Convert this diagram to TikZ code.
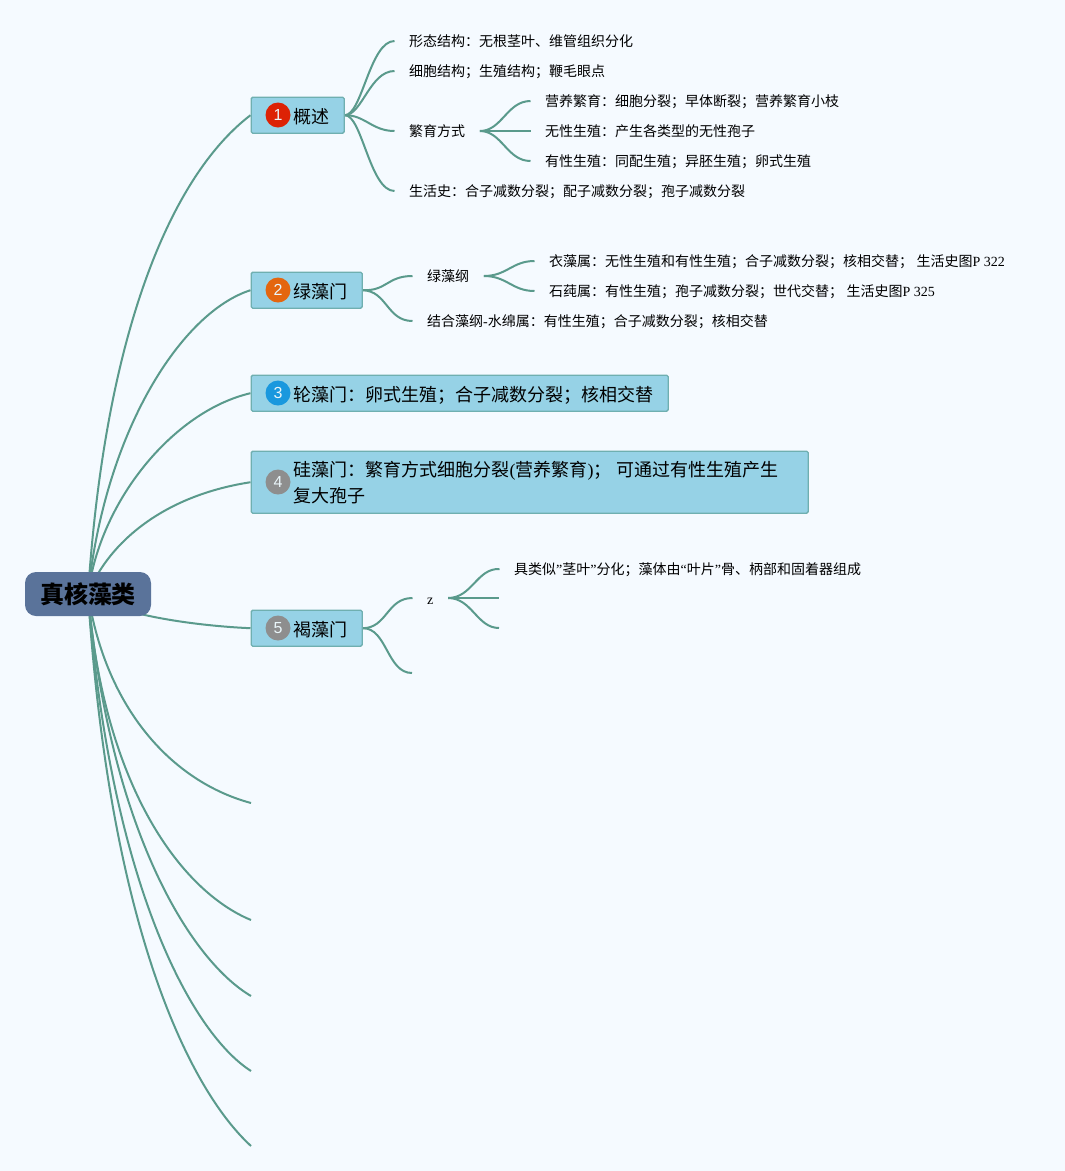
\documentclass[tikz,border=0pt]{standalone}
\usepackage{fontspec}
\setmainfont{Noto Sans CJK SC}
\newfontfamily\latf{Liberation Serif}
\newfontfamily\digf{Liberation Sans}
\newcommand{\lat}[1]{{\latf #1}}
\definecolor{pagebg}{HTML}{F5FAFF}
\definecolor{linkc}{HTML}{5A9A8C}
\definecolor{branchf}{HTML}{96D2E6}
\definecolor{branchd}{HTML}{6FAFB0}
\definecolor{rootf}{HTML}{5A739A}
\definecolor{badgea}{HTML}{DD2205}
\definecolor{badgeb}{HTML}{E4660F}
\definecolor{badgec}{HTML}{1A98DE}
\definecolor{badged}{HTML}{8E8E8E}
\pgfdeclarelayer{bg}
\pgfsetlayers{bg,main}
\tikzset{
  x=1pt,y=-1pt,
  link/.style={draw=linkc,line width=2pt,line cap=butt},
  leaf/.style={anchor=west,inner ysep=0pt,inner xsep=14.5pt,text height=11.4pt,text depth=0pt,font=\fontsize{14}{16}\selectfont,text=black},
  branch/.style={anchor=north west,draw=branchd,fill=branchf,line width=1.4pt,rounded corners=1.5pt,inner sep=0pt,font=\fontsize{18}{26}\selectfont,text=black,align=left},
  branchline/.style={text height=16pt,text depth=0pt},
  badge/.style={circle,minimum size=25pt,inner sep=0pt,font=\digf\fontsize{16}{16}\selectfont,text=white!80!branchf},
  rootn/.style={draw=none,fill=rootf,rounded corners=11pt,minimum width=126pt,minimum height=44pt,inner sep=0pt,font=\bfseries\fontsize{24}{26}\selectfont,text=black}
}
\begin{document}
\begin{tikzpicture}
\useasboundingbox (0,0) rectangle (1065,1171);
\node[rootn] (root) at (88,594) {真核藻类};
% level 1
\node[branch,branchline,minimum width=93pt,minimum height=36pt] (b1) at (250.5,96.5) {\hspace*{42.5pt}\makebox[50.5pt][l]{概述}};
\node[branch,branchline,minimum width=111pt,minimum height=36pt] (b2) at (250.5,271.5) {\hspace*{42.5pt}\makebox[68.5pt][l]{绿藻门}};
\node[branch,branchline,minimum width=417pt,minimum height=36pt] (b3) at (250.5,374.5) {\hspace*{42.5pt}\makebox[374.5pt][l]{轮藻门：卵式生殖；合子减数分裂；核相交替}};
\node[branch,minimum width=557pt,minimum height=62pt] (b4) at (250.5,450.5) {\hspace*{42.5pt}\parbox[c][54pt][c]{514.5pt}{\vspace*{1.4pt}\fontsize{18}{26}\selectfont 硅藻门：繁育方式细胞分裂\lat{(}营养繁育\lat{)}；\hspace{5pt}可通过有性生殖产生\\复大孢子}};
\node[branch,branchline,minimum width=111pt,minimum height=36pt] (b5) at (250.5,609.5) {\hspace*{42.5pt}\makebox[68.5pt][l]{褐藻门}};
\node[badge,fill=badgea] (n1) at (278,115) {1};
\node[badge,fill=badgeb] (n2) at (278,290) {2};
\node[badge,fill=badgec] (n3) at (278,393) {3};
\node[badge,fill=badged] (n4) at (278,482) {4};
\node[badge,fill=badged] (n5) at (278,628) {5};
% free ends
\coordinate (e6) at (251,803);
\coordinate (e7) at (251,920);
\coordinate (e8) at (251,996);
\coordinate (e9) at (251,1071);
\coordinate (e10) at (251,1146);
% level 2 under b1
\node[leaf] (a1) at (394.5,41) {形态结构：无根茎叶、维管组织分化};
\node[leaf] (a2) at (394.5,71) {细胞结构；生殖结构；鞭毛眼点};
\node[leaf] (a3) at (394.5,131) {繁育方式};
\node[leaf] (a4) at (394.5,191) {生活史：合子减数分裂；配子减数分裂；孢子减数分裂};
\node[leaf] (a31) at (530.5,101) {营养繁育：细胞分裂；早体断裂；营养繁育小枝};
\node[leaf] (a32) at (530.5,131) {无性生殖：产生各类型的无性孢子};
\node[leaf] (a33) at (530.5,161) {有性生殖：同配生殖；异胚生殖；卵式生殖};
% under b2
\node[leaf] (c1) at (412.5,276) {绿藻纲};
\node[leaf] (c2) at (412.5,321) {结合藻纲\lat{-}水绵属：有性生殖；合子减数分裂；核相交替};
\node[leaf] (c11) at (534.5,261) {衣藻属：无性生殖和有性生殖；合子减数分裂；核相交替；\hspace{3.4pt}生活史图\lat{P 322}};
\node[leaf] (c12) at (534.5,291) {石莼属：有性生殖；孢子减数分裂；世代交替；\hspace{3.4pt}生活史图\lat{P 325}};
% under b5
\node[leaf,font=\latf\fontsize{14}{16}\selectfont] (z) at (412.5,598) {\raisebox{-1pt}{z}\hspace{5.5pt}};
\coordinate (z2) at (412,673);
\node[leaf] (z1) at (499.5,569) {具类似\lat{”}茎叶\lat{”}分化；藻体由\lat{“}叶片\lat{”}骨、柄部和固着器组成};
\coordinate (z12) at (499,598);
\coordinate (z13) at (499,628);
\begin{pgfonlayer}{bg}
\fill[pagebg] (0,0) rectangle (1065,1171);
\draw[link] (root.center) .. controls (106,320) and (176,172) .. (b1.west);
\draw[link] (root.center) .. controls (105,430) and (182,312) .. (b2.west);
\draw[link] (root.center) .. controls (100,500) and (174,411) .. (b3.west);
\draw[link] (root.center) .. controls (105,550) and (155,497) .. (b4.west);
\draw[link] (root.center) .. controls (120,616) and (200,626) .. (b5.west);
\draw[link] (root.center) .. controls (106,710) and (173,782) .. (e6);
\draw[link] (root.center) .. controls (104,790) and (183,892) .. (e7);
\draw[link] (root.center) .. controls (110,830) and (190,960) .. (e8);
\draw[link] (root.center) .. controls (110,880) and (190,1032) .. (e9);
\draw[link] (root.center) .. controls (110,930) and (190,1090) .. (e10);
% b1
\draw[link] (b1.east) .. controls (362,115) and (370,41) .. (a1.west);
\draw[link] (b1.east) .. controls (362,115) and (370,71) .. (a2.west);
\draw[link] (b1.east) .. controls (365,115) and (372,131) .. (a3.west);
\draw[link] (b1.east) .. controls (362,115) and (370,191) .. (a4.west);
\draw[link] (a3.east) .. controls (502,131) and (507,101) .. (a31.west);
\draw[link] (a3.east) -- (a32.west);
\draw[link] (a3.east) .. controls (502,131) and (507,161) .. (a33.west);
% b2
\draw[link] (b2.east) .. controls (387,291) and (387,276) .. (c1.west);
\draw[link] (b2.east) .. controls (387,291) and (387,321) .. (c2.west);
\draw[link] (c1.east) .. controls (507,276) and (512,261) .. (c11.west);
\draw[link] (c1.east) .. controls (507,276) and (512,291) .. (c12.west);
% b5
\draw[link] (b5.east) .. controls (387,628) and (387,598) .. (z.west);
\draw[link] (b5.east) .. controls (387,628) and (387,673) .. (z2);
\draw[link] (z.east) .. controls (472,598) and (477,568) .. (z1.west);
\draw[link] (z.east) -- (z12);
\draw[link] (z.east) .. controls (472,598) and (477,628) .. (z13);
\end{pgfonlayer}
\end{tikzpicture}
\end{document}
